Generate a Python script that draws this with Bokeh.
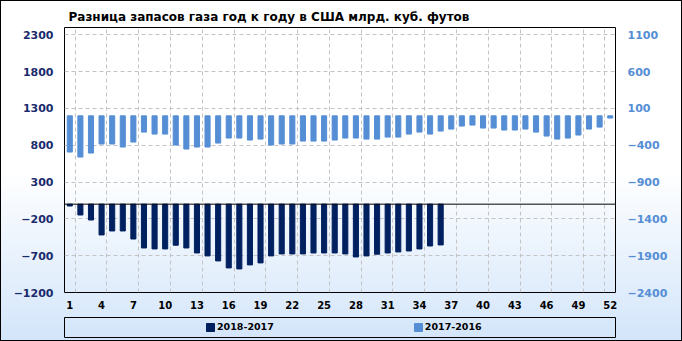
from bokeh.plotting import figure
from bokeh.models import Range1d, LinearAxis, FixedTicker, Span
from bokeh.layouts import column
from bokeh.embed import file_html
from bokeh.resources import INLINE

# ---- data ----
title_text = "Разница  запасов газа год к году в США млрд. куб. футов"
weeks = list(range(1, 53))
weeks_2018 = list(range(1, 37))
diff_2018_2017 = [-25, -147, -215, -418, -364, -364, -473, -595, -608, -608,
                  -558, -595, -663, -703, -771, -866, -880, -825, -798, -703,
                  -676, -676, -676, -663, -663, -663, -676, -717, -703, -680,
                  -663, -649, -636, -608, -568, -554]
diff_2017_2016 = [-492, -560, -506, -383, -383, -424, -356, -221, -248, -248,
                  -397, -451, -424, -424, -370, -302, -302, -329, -316, -397,
                  -383, -383, -343, -343, -343, -329, -302, -302, -316, -316,
                  -289, -289, -248, -221, -248, -207, -180, -139, -126, -166,
                  -166, -193, -193, -180, -221, -275, -316, -302, -261, -180,
                  -153, -30]
series_names = ["2018-2017", "2017-2016"]
left_ticks = [-1200, -700, -200, 300, 800, 1300, 1800, 2300]
right_ticks = [-2400, -1900, -1400, -900, -400, 100, 600, 1100]
x_ticks = [1, 4, 7, 10, 13, 16, 19, 22, 25, 28, 31, 34, 37, 40, 43, 46, 49, 52]

DARK = "#002060"
LIGHT = "#558ed5"
FONT = "DejaVu Sans"

p = figure(width=682, height=312, x_range=Range1d(0.5, 52.5), y_range=Range1d(-1200, 2400),
           output_backend="svg", toolbar_location=None,
           min_border_left=64, min_border_right=67, min_border_top=27, min_border_bottom=20,
           border_fill_color=None, background_fill_color=None,
           outline_line_color="black", outline_line_width=1)
p.extra_y_ranges = {"right": Range1d(-2400, 1200)}

# title
p.title.text = title_text
p.title.text_font = FONT
p.title.text_font_size = "12px"
p.title.text_font_style = "bold"
p.title.text_color = "black"
p.title.align = "left"
p.title.offset = 4
p.title.standoff = 8

# grids
p.ygrid.ticker = FixedTicker(ticks=left_ticks)
p.xgrid.ticker = FixedTicker(ticks=[w + 0.5 for w in x_ticks[:-1]] + [51.5])
for g in (p.xgrid, p.ygrid):
    g.grid_line_color = "#c4c4c4"
    g.grid_line_dash = "4 3"
    g.grid_line_width = 1

# bars
p.vbar(x=weeks, top=0, bottom=diff_2017_2016, width=0.48, color=LIGHT, y_range_name="right")
p.vbar(x=weeks_2018, top=0, bottom=diff_2018_2017, width=0.48, color=DARK)

p.add_layout(Span(location=0, dimension="width", line_color="black", line_width=1))

# axes
p.xaxis.ticker = FixedTicker(ticks=x_ticks)
p.yaxis.ticker = FixedTicker(ticks=left_ticks)
ra = LinearAxis(y_range_name="right", ticker=FixedTicker(ticks=right_ticks))
p.add_layout(ra, "right")

for ax in p.axis:
    ax.axis_line_color = None
    ax.major_tick_line_color = None
    ax.minor_tick_line_color = None
    ax.major_tick_out = 0
    ax.major_tick_in = 0
    ax.major_label_text_font = FONT
    ax.major_label_text_font_style = "bold"

p.xaxis.major_label_text_font_size = "10px"
p.xaxis.major_label_text_color = "black"
p.xaxis.major_label_standoff = 8
p.yaxis[0].major_label_text_font_size = "11px"
p.yaxis[0].major_label_text_color = "#1a2b6d"
p.yaxis[0].major_label_standoff = 11
ra.major_label_text_font_size = "11px"
ra.major_label_text_color = LIGHT
ra.major_label_standoff = 12

# legend figure (renderers hold off-range placeholder bars, only used for the legend swatches)
p2 = figure(width=682, height=29, x_range=Range1d(0, 1), y_range=Range1d(0, 1),
            output_backend="svg", toolbar_location=None,
            x_axis_location=None, y_axis_location=None,
            min_border_left=63, min_border_right=64, min_border_top=5, min_border_bottom=4,
            border_fill_color=None, background_fill_color=None,
            outline_line_color="black", outline_line_width=1)
p2.grid.visible = False
p2.vbar(x=[-5], top=[-5], bottom=[-6], width=0.1, color=DARK, legend_label=series_names[0])
p2.vbar(x=[-5], top=[-5], bottom=[-6], width=0.1, color=LIGHT, legend_label=series_names[1])
leg = p2.legend[0]
leg.orientation = "horizontal"
leg.location = (141, 5)
leg.margin = 0
leg.padding = 0
leg.glyph_width = 10
leg.glyph_height = 10
leg.label_height = 10
leg.label_standoff = 2
leg.spacing = 139
leg.label_text_font = FONT
leg.label_text_font_size = "9.5px"
leg.label_text_font_style = "bold"
leg.label_text_color = "black"
leg.border_line_color = None
leg.background_fill_alpha = 0

layout = column(p, p2, spacing=0,
                styles={"background": "linear-gradient(to bottom, #ffffff 0%, #ffffff 50%, #d3e5fa 100%)",
                        "outline": "1px solid black", "outline-offset": "-1px"})

open("out.html", "w").write(file_html(layout, INLINE))
